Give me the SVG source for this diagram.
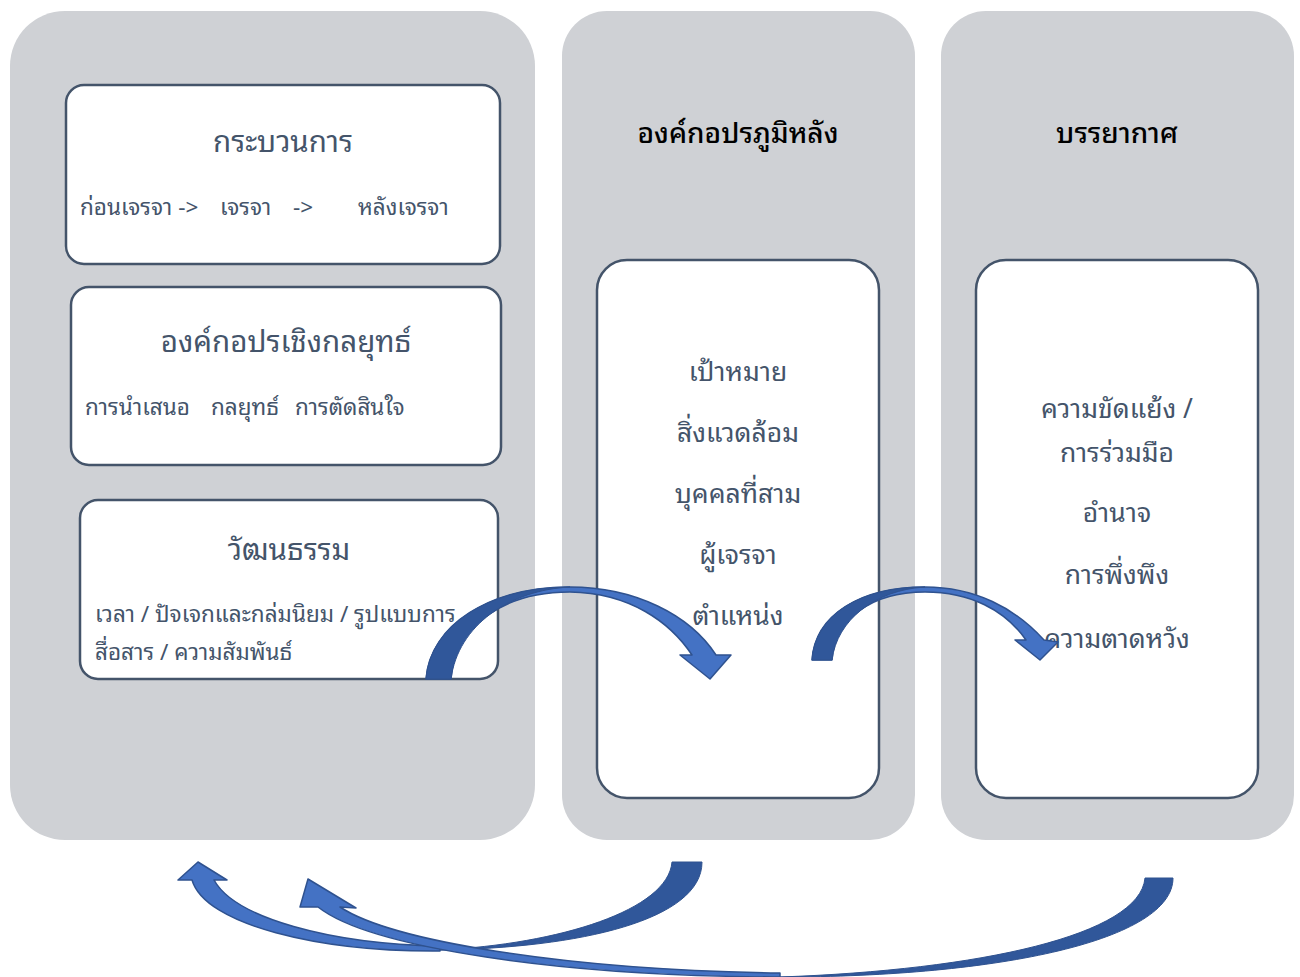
<svg xmlns="http://www.w3.org/2000/svg" width="1300" height="977" viewBox="0 0 1300 977">
<style>
.panel{fill:#cfd1d5}
.box{fill:#ffffff;stroke:#44546a;stroke-width:2.5}
text{font-family:"Noto Sans Thai Looped","Noto Sans Thai","Noto Sans","DejaVu Sans",sans-serif}
.hdr{font-size:28px;fill:#000000;text-anchor:middle;font-weight:500}
.ttl{font-size:29.5px;fill:#44546a;text-anchor:middle}
.bd{font-size:22.5px;fill:#44546a}
.it{font-size:26.5px;fill:#44546a;text-anchor:middle}
.light{fill:#4472c4;stroke:#2f528f;stroke-width:1.5;stroke-linejoin:round}
.dark{fill:#30579a;stroke:#2f528f;stroke-width:1}
</style>
<rect width="1300" height="977" fill="#ffffff"/>
<g id="panel-left"><rect class="panel" x="10" y="11" width="525" height="829" rx="55" ry="55"/></g>
<g id="panel-mid"><rect class="panel" x="562" y="11" width="353" height="829" rx="45" ry="45"/>
<text class="hdr" x="738" y="143">องค์กอปรภูมิหลัง</text></g>
<g id="panel-right"><rect class="panel" x="941" y="11" width="353" height="829" rx="45" ry="45"/>
<text class="hdr" x="1117" y="143">บรรยากาศ</text></g>
<g id="node-process"><rect class="box" x="66" y="85" width="434" height="179" rx="18"/>
<text class="ttl" x="283" y="152">กระบวนการ</text>
<text class="bd" x="80" y="215">ก่อนเจรจา -&gt;</text>
<text class="bd" x="220" y="215">เจรจา</text>
<text class="bd" x="293" y="215">-&gt;</text>
<text class="bd" x="358" y="215">หลังเจรจา</text></g>
<g id="node-strategy"><rect class="box" x="71" y="287" width="430" height="178" rx="18"/>
<text class="ttl" x="286" y="352">องค์กอปรเชิงกลยุทธ์</text>
<text class="bd" x="85" y="415">การนำเสนอ</text>
<text class="bd" x="211" y="415">กลยุทธ์</text>
<text class="bd" x="295" y="415">การตัดสินใจ</text></g>
<g id="node-culture"><rect class="box" x="80" y="500" width="418" height="179" rx="18"/>
<text class="ttl" x="289" y="560">วัฒนธรรม</text>
<text class="bd" x="95" y="622">เวลา / ปัจเจกและกล่มนิยม / รูปแบบการ</text>
<text class="bd" x="95" y="660">สื่อสาร / ความสัมพันธ์</text></g>
<g id="node-background"><rect class="box" x="597" y="260" width="282" height="538" rx="30"/>
<text class="it" x="738" y="381">เป้าหมาย</text>
<text class="it" x="738" y="442">สิ่งแวดล้อม</text>
<text class="it" x="738" y="503">บุคคลที่สาม</text>
<text class="it" x="738" y="564">ผู้เจรจา</text>
<text class="it" x="738" y="625">ตำแหน่ง</text></g>
<g id="node-atmosphere"><rect class="box" x="976" y="260" width="282" height="538" rx="30"/>
<text class="it" x="1117" y="418">ความขัดแย้ง /</text>
<text class="it" x="1117" y="462">การร่วมมือ</text>
<text class="it" x="1117" y="522">อำนาจ</text>
<text class="it" x="1117" y="584">การพึ่งพึง</text>
<text class="it" x="1117" y="648">ความตาดหวัง</text></g>
<g id="connectors">
<path class="light" d="M426,679 C430,625 490,587 570,587 C635,587 690,615 716,655 L731,655 L710,679 L680,655 L692,655 C670,622 630,593 570,592 C505,592 455,625 451,679 Z"/>
<path class="dark" d="M426,679 C430,625 490,587 570,587 C510,590 458,625 451,679 Z"/>
<path class="light" d="M812,660 C815,615 860,587 925,587 C975,587 1015,608 1044,640 L1058,642 L1040,660 L1015,640 L1026,640 C1005,610 970,592 925,592 C870,592 835,620 832,660 Z"/>
<path class="dark" d="M812,660 C815,615 860,587 925,587 C875,590 837,620 832,660 Z"/>
<path class="light" d="M440,946 C330,944 235,918 214,880 L227,880 L198,862 L178,880 L192,880 C205,925 320,952 440,951 Z"/>
<path class="dark" d="M702,862 C702,920 580,948 440,950 C560,944 668,910 672,862 Z"/>
<path class="light" d="M780,973 C560,970 390,940 340,907 L356,908 L308,879 L300,907 L318,907 C370,948 560,976 780,977 Z"/>
<path class="dark" d="M1173,878 C1173,940 1000,977 780,977 C980,970 1140,935 1145,878 Z"/>
</g>
</svg>
